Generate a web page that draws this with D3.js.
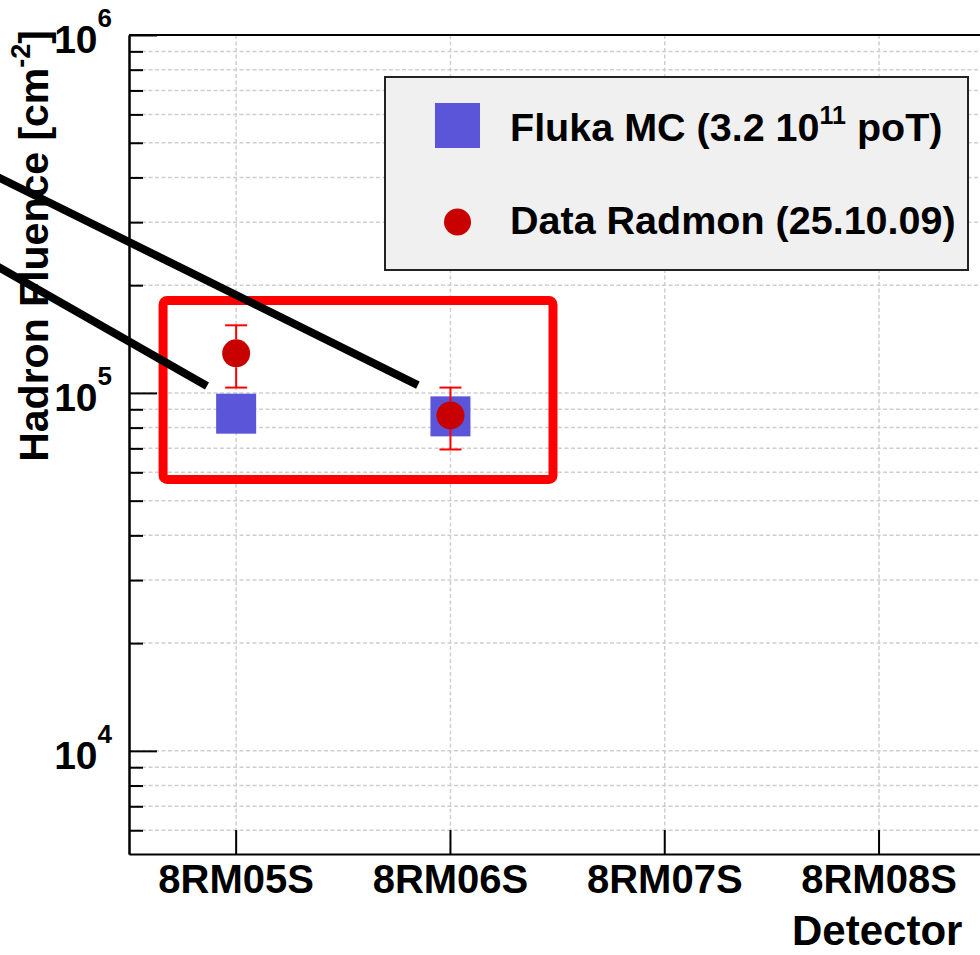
<!DOCTYPE html>
<html>
<head>
<meta charset="utf-8">
<script src="https://cdn.jsdelivr.net/npm/d3@7"></script>
<style>
	body { margin: 0; background: #fff; }
	svg text { font-family: "Liberation Sans", Arial, sans-serif; font-weight: bold; fill: #000; }
</style>
</head>
<body>
<div id="chart"></div>
<script>
//////////////////////////// data /////////////////////////////////////////

const categories = ["8RM05S", "8RM06S", "8RM07S", "8RM08S"];

// Fluka MC simulation (blue squares)
const flukaDetectors = ["8RM05S", "8RM06S"];
const flukaValues = [8.75e4, 8.6e4];

// Radmon measurement (red circles) with symmetric errors
const radmonDetectors = ["8RM05S", "8RM06S"];
const radmonValues = [1.29e5, 8.65e4];
const radmonErrors = [2.55e4, 1.7e4];

const majorTicks = [1e4, 1e5, 1e6];
const tickExponents = ["4", "5", "6"];
const yMin = 5150;
const yMax = 1e6;

const legendLabels = ["Fluka MC (3.2 10", "Data Radmon (25.10.09)"];

// annotation overlay, in data units (x: bins from 8RM05S, y: fluence)
const boxCorners = { x0: -0.341, x1: 1.4785, y0: 5.73e4, y1: 1.813e5 };
const pointerStartX = [-1.195, -1.195];
const pointerStartY = [4.243e5, 2.404e5];
const pointerEndX = [0.848, -0.136];
const pointerEndY = [1.052e5, 1.045e5];

//////////////////////////// drawing function /////////////////////////////

const createChart = () => {
	const width = 980;
	const height = 955;
	const dimensions = { left: 129, top: 35, bottom: 854, binWidth: 214.3 };

	const svg = d3.select("#chart").append("svg")
		.attr("width", width)
		.attr("height", height);

	//////////////////////////// scales ///////////////////////////////////////

	const xScale = d3.scaleBand()
		.domain(categories)
		.range([dimensions.left, dimensions.left + categories.length * dimensions.binWidth]);

	const xCenter = (d) => xScale(d) + xScale.bandwidth() / 2;
	const xUnits = (u) => xCenter(categories[0]) + u * xScale.bandwidth();

	const yScale = d3.scaleLog()
		.domain([yMin, yMax])
		.range([dimensions.bottom, dimensions.top]);

	const minorTicks = [];
	[3, 4, 5].forEach((e) => {
		d3.range(2, 10).forEach((k) => {
			const v = k * Math.pow(10, e);
			if (v >= yMin && v <= yMax) minorTicks.push(v);
		});
	});

	const xRight = xScale.range()[1];

	//////////////////////////// grid /////////////////////////////////////////

	const grid = svg.append("g")
		.attr("stroke", "#cfcfcf")
		.attr("stroke-width", 1.5)
		.attr("stroke-dasharray", "4,2.5");

	grid.selectAll(".hgrid")
		.data(majorTicks.concat(minorTicks))
		.enter()
		.append("line")
		.attr("x1", dimensions.left)
		.attr("x2", xRight)
		.attr("y1", (d) => yScale(d))
		.attr("y2", (d) => yScale(d));

	grid.selectAll(".vgrid")
		.data(categories)
		.enter()
		.append("line")
		.attr("x1", (d) => xCenter(d))
		.attr("x2", (d) => xCenter(d))
		.attr("y1", dimensions.top)
		.attr("y2", dimensions.bottom);

	//////////////////////////// axes /////////////////////////////////////////

	const xAxis = svg.append("g")
		.attr("transform", `translate(0,${dimensions.bottom})`)
		.call(d3.axisBottom(xScale).tickSize(-24).tickSizeOuter(0).tickPadding(11));
	xAxis.selectAll("text").attr("font-size", 40).style("font-family", null);
	xAxis.selectAll("line, path").attr("stroke", "#000").attr("stroke-width", 2);
	xAxis.attr("font-family", null);

	const yMinorAxis = svg.append("g")
		.attr("transform", `translate(${dimensions.left},0)`)
		.call(d3.axisLeft(yScale).tickValues(minorTicks).tickSize(-14).tickSizeOuter(0).tickFormat(""));
	yMinorAxis.selectAll("line, path").attr("stroke", "#000").attr("stroke-width", 2);

	const yMajorAxis = svg.append("g")
		.attr("transform", `translate(${dimensions.left},0)`)
		.call(d3.axisLeft(yScale).tickValues(majorTicks).tickSize(-28).tickSizeOuter(0).tickFormat(""));
	yMajorAxis.selectAll("line, path").attr("stroke", "#000").attr("stroke-width", 2);

	// top frame line
	svg.append("line")
		.attr("x1", dimensions.left)
		.attr("x2", xRight)
		.attr("y1", dimensions.top)
		.attr("y2", dimensions.top)
		.attr("stroke", "#000")
		.attr("stroke-width", 2);

	// y tick labels 10^n
	const yLabels = svg.selectAll(".ylabel")
		.data(majorTicks)
		.enter()
		.append("text")
		.attr("class", "ylabel")
		.attr("x", 112)
		.attr("y", (d) => yScale(d) + 18)
		.attr("text-anchor", "end")
		.attr("font-size", 39);
	yLabels.append("tspan").text("10");
	yLabels.append("tspan")
		.attr("font-size", 26)
		.attr("dy", -26)
		.text((d, i) => tickExponents[i]);

	// axis titles
	const yTitle = svg.append("text")
		.attr("transform", "translate(48,30) rotate(-90)")
		.attr("text-anchor", "end")
		.attr("font-size", 41);
	yTitle.append("tspan").text("Hadron Fluence [cm");
	yTitle.append("tspan").attr("font-size", 27).attr("dy", -18).text("-2");
	yTitle.append("tspan").attr("dy", 18).text("]");

	svg.append("text")
		.attr("x", 792)
		.attr("y", 945)
		.attr("font-size", 42)
		.text("Detector");

	//////////////////////////// plot /////////////////////////////////////////

	const sq = 40;
	svg.selectAll(".fluka")
		.data(flukaValues)
		.enter()
		.append("rect")
		.attr("x", (d, i) => xCenter(flukaDetectors[i]) - sq / 2)
		.attr("y", (d) => yScale(d) - sq / 2)
		.attr("width", sq)
		.attr("height", sq)
		.attr("fill", "#5b55d9");

	const r = 14;
	const cap = 11;
	const errs = svg.append("g")
		.attr("stroke", "#ff0000")
		.attr("stroke-width", 2);

	radmonValues.forEach((v, i) => {
		const cx = xCenter(radmonDetectors[i]);
		const cy = yScale(v);
		const yTop = yScale(v + radmonErrors[i]);
		const yBot = yScale(v - radmonErrors[i]);
		errs.append("line").attr("x1", cx).attr("x2", cx).attr("y1", yTop).attr("y2", cy - r);
		errs.append("line").attr("x1", cx).attr("x2", cx).attr("y1", cy + r).attr("y2", yBot);
		errs.append("line").attr("x1", cx - cap).attr("x2", cx + cap).attr("y1", yTop).attr("y2", yTop);
		errs.append("line").attr("x1", cx - cap).attr("x2", cx + cap).attr("y1", yBot).attr("y2", yBot);
	});

	svg.selectAll(".radmon")
		.data(radmonValues)
		.enter()
		.append("circle")
		.attr("cx", (d, i) => xCenter(radmonDetectors[i]))
		.attr("cy", (d) => yScale(d))
		.attr("r", r)
		.attr("fill", "#c80000");

	//////////////////////////// legend ///////////////////////////////////////

	const legend = svg.append("g");
	legend.append("rect")
		.attr("x", 385)
		.attr("y", 77)
		.attr("width", 583)
		.attr("height", 193)
		.attr("fill", "#f0f0f0")
		.attr("stroke", "#222")
		.attr("stroke-width", 2);

	legend.append("rect")
		.attr("x", 435)
		.attr("y", 103)
		.attr("width", 45)
		.attr("height", 45)
		.attr("fill", "#5b55d9");

	legend.append("circle")
		.attr("cx", 457.5)
		.attr("cy", 222)
		.attr("r", 13.5)
		.attr("fill", "#c80000");

	const l1 = legend.append("text")
		.attr("x", 510)
		.attr("y", 141)
		.attr("font-size", 39.5);
	l1.append("tspan").text(legendLabels[0]);
	l1.append("tspan").attr("font-size", 25).attr("dy", -17).text("11");
	l1.append("tspan").attr("dy", 17).text(" poT)");

	legend.append("text")
		.attr("x", 510)
		.attr("y", 234)
		.attr("font-size", 39.5)
		.text(legendLabels[1]);

	//////////////////////////// annotation ///////////////////////////////////

	svg.append("rect")
		.attr("x", xUnits(boxCorners.x0))
		.attr("y", yScale(boxCorners.y1))
		.attr("width", xUnits(boxCorners.x1) - xUnits(boxCorners.x0))
		.attr("height", yScale(boxCorners.y0) - yScale(boxCorners.y1))
		.attr("rx", 4)
		.attr("fill", "none")
		.attr("stroke", "#ff0000")
		.attr("stroke-width", 9);

	svg.selectAll(".pointer")
		.data(pointerStartX)
		.enter()
		.append("line")
		.attr("x1", (d) => xUnits(d))
		.attr("y1", (d, i) => yScale(pointerStartY[i]))
		.attr("x2", (d, i) => xUnits(pointerEndX[i]))
		.attr("y2", (d, i) => yScale(pointerEndY[i]))
		.attr("stroke", "#000")
		.attr("stroke-width", 8);
};

createChart();
</script>
</body>
</html>
